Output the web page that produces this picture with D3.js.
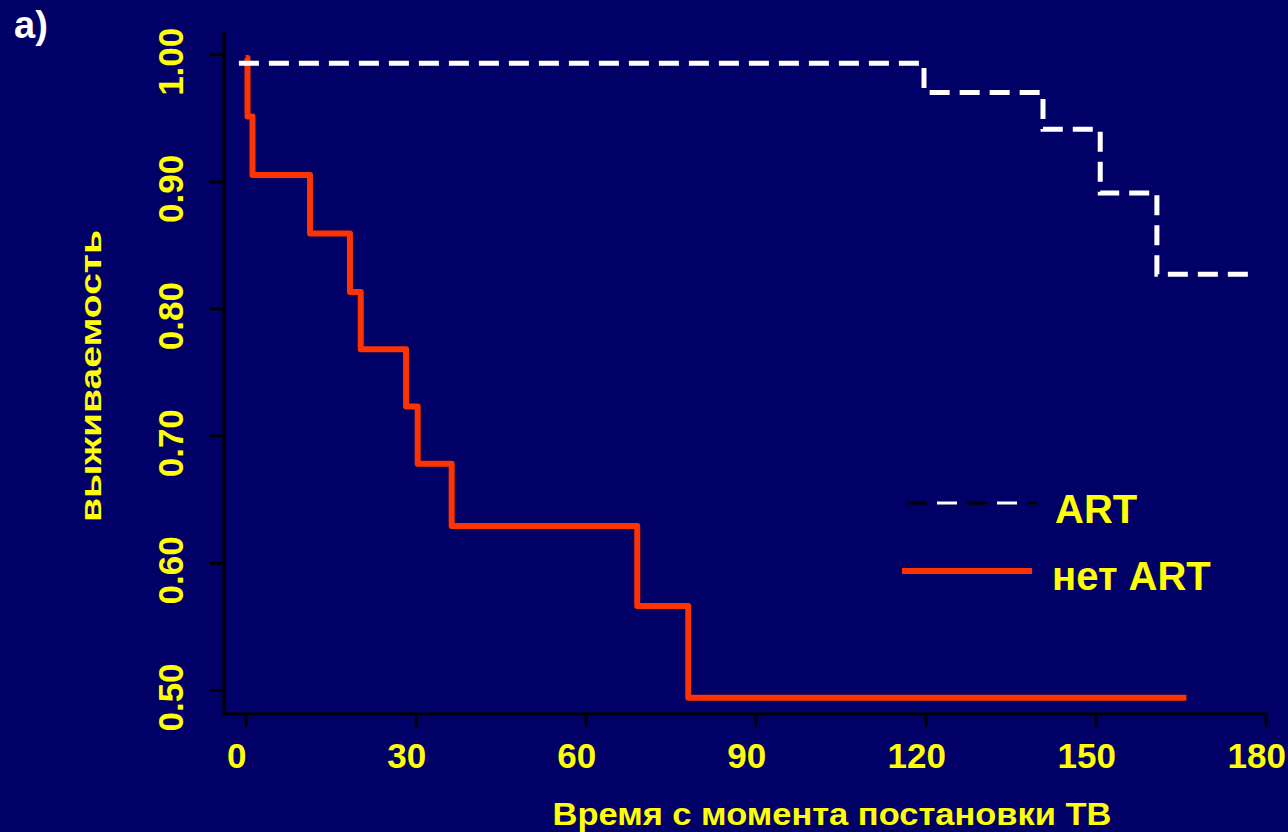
<!DOCTYPE html>
<html>
<head>
<meta charset="utf-8">
<script src="https://cdn.jsdelivr.net/npm/d3@7"></script>
<style>
  html, body { margin: 0; padding: 0; background: #000066; }
  svg { display: block; }
  text { font-family: "Liberation Sans", Arial, sans-serif; font-weight: bold; }
</style>
</head>
<body>
<svg id="chart" width="1288" height="832"></svg>
<script>
// ---- data ----
const artTimes   = [-1.2, 119.7, 140.7, 150.8, 160.8, 176.9];
const artSurv    = [0.993, 0.970, 0.941, 0.891, 0.827, 0.827];
const noArtTimes = [0, 0.32, 1.2, 11.35, 18.4, 20.3, 28.3, 30.35, 36.35, 69.1, 78.1, 166.0];
const noArtSurv  = [0.997, 0.951, 0.905, 0.859, 0.813, 0.768, 0.723, 0.678, 0.629, 0.566, 0.494, 0.494];
const xTicks = [0, 30, 60, 90, 120, 150, 180];
const yTicks = [0.5, 0.6, 0.7, 0.8, 0.9, 1.0];
const seriesNames = ["ART", "нет ART"];
const xTitle = "Время с момента постановки ТВ";
const yTitle = "выживаемость";
const panelLabel = "a)";

// ---- layout ----
const svg = d3.select("#chart");
svg.append("rect").attr("width", 1288).attr("height", 832).attr("fill", "#000066");

const x = d3.scaleLinear().domain([0, 180]).range([245.7, 1265.7]);
const y = d3.scaleLinear().domain([0.5, 1.0]).range([690, 54.3]);
const frameLeft = 224, frameBottom = 714, frameTop = 32;

// axes
const yAxis = d3.axisLeft(y).tickValues(yTicks).tickSize(14).tickFormat(d3.format(".2f"));
const gy = svg.append("g").attr("transform", `translate(${frameLeft},0)`).call(yAxis);
gy.select(".domain").remove();
gy.selectAll(".tick line").attr("stroke", "#000").attr("stroke-width", 3);
gy.selectAll(".tick text")
  .attr("fill", "#ffff00").attr("font-size", 35)
  .attr("font-family", "Liberation Sans, Arial, sans-serif").attr("font-weight", "bold")
  .attr("text-anchor", "middle").attr("dy", null)
  .attr("transform", "rotate(-90)")
  .attr("x", -7).attr("y", -41);

const xAxis = d3.axisBottom(x).tickValues(xTicks).tickSize(13).tickFormat(d3.format("d"));
const gx = svg.append("g").attr("transform", `translate(0,${frameBottom})`).call(xAxis);
gx.select(".domain").remove();
gx.selectAll(".tick line").attr("stroke", "#000").attr("stroke-width", 3);
gx.selectAll(".tick text")
  .attr("fill", "#ffff00").attr("font-size", 35)
  .attr("font-family", "Liberation Sans, Arial, sans-serif").attr("font-weight", "bold")
  .attr("dy", null).attr("y", 54).attr("x", -9.5);

// frame (L shape)
svg.append("line").attr("x1", frameLeft).attr("x2", frameLeft).attr("y1", frameTop).attr("y2", frameBottom + 1.5)
  .attr("stroke", "#000").attr("stroke-width", 3);
svg.append("line").attr("x1", frameLeft - 1.5).attr("x2", x(180) + 1.5).attr("y1", frameBottom).attr("y2", frameBottom)
  .attr("stroke", "#000").attr("stroke-width", 3);

// curves
const line = d3.line().x(d => x(d[0])).y(d => y(d[1])).curve(d3.curveStepAfter);
const artData = artTimes.map((t, i) => [t, artSurv[i]]);
const noArtData = noArtTimes.map((t, i) => [t, noArtSurv[i]]);

svg.append("path").datum(noArtData).attr("d", line)
  .attr("fill", "none").attr("stroke", "#ff3300").attr("stroke-width", 6)
  .attr("stroke-linejoin", "round");
svg.append("path").datum(artData).attr("d", line)
  .attr("fill", "none").attr("stroke", "#ffffff").attr("stroke-width", 5)
  .attr("stroke-dasharray", "20,10");

// titles
svg.append("text").attr("x", 832).attr("y", 825).attr("text-anchor", "middle")
  .attr("fill", "#ffff00").attr("font-size", 32)
  .attr("textLength", 559).attr("lengthAdjust", "spacingAndGlyphs")
  .text(xTitle);
svg.append("text").attr("transform", "translate(101,376) rotate(-90)").attr("text-anchor", "middle")
  .attr("fill", "#ffff00").attr("font-size", 30)
  .attr("textLength", 292).attr("lengthAdjust", "spacingAndGlyphs")
  .text(yTitle);
svg.append("text").attr("x", 14).attr("y", 38).attr("fill", "#ffffff").attr("font-size", 38)
  .text(panelLabel);

// legend
const lg = svg.append("g");
lg.append("line").attr("x1", 907).attr("x2", 1037).attr("y1", 503).attr("y2", 503)
  .attr("stroke", "#000").attr("stroke-width", 3).attr("stroke-dasharray", "20,40");
lg.append("line").attr("x1", 907).attr("x2", 1037).attr("y1", 503).attr("y2", 503)
  .attr("stroke", "#fff").attr("stroke-width", 3).attr("stroke-dasharray", "20,40").attr("stroke-dashoffset", -30);
lg.append("line").attr("x1", 902).attr("x2", 1032).attr("y1", 571).attr("y2", 571)
  .attr("stroke", "#ff3300").attr("stroke-width", 6);
lg.append("text").attr("x", 1055).attr("y", 523).attr("fill", "#ffff00").attr("font-size", 40).text(seriesNames[0]);
lg.append("text").attr("x", 1052).attr("y", 590).attr("fill", "#ffff00").attr("font-size", 40).text(seriesNames[1]);
</script>
</body>
</html>
